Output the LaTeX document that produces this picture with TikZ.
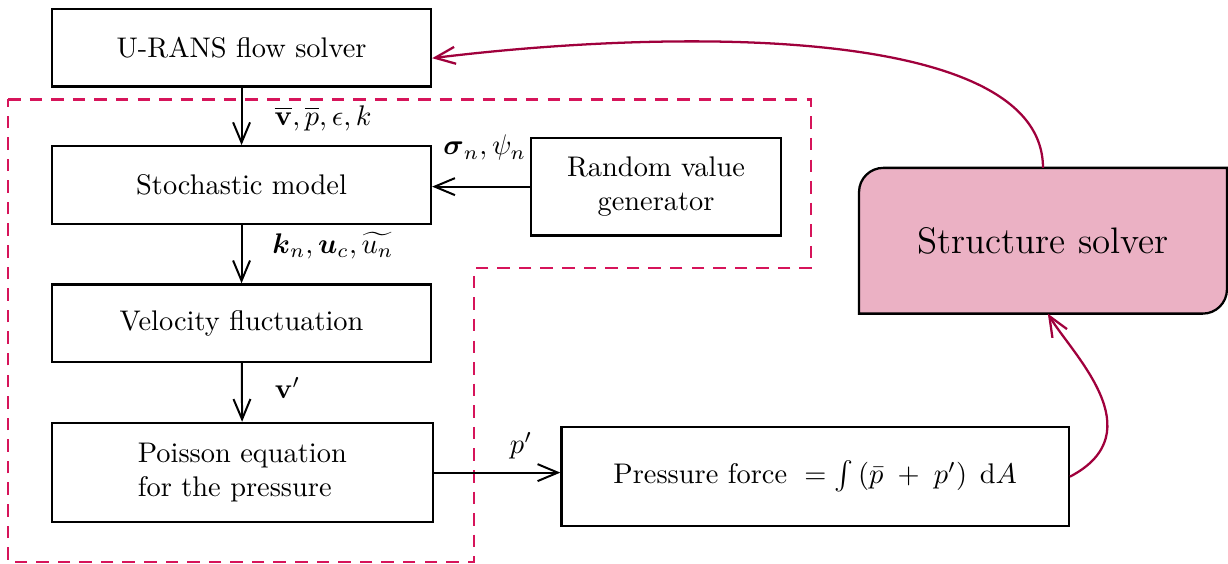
\documentclass[tikz,border=0pt]{standalone}
\usepackage{amsmath}
\usetikzlibrary{arrows.meta,backgrounds}
\definecolor{dashred}{RGB}{214,20,90}
\definecolor{curvered}{RGB}{160,0,60}
\definecolor{solverpink}{RGB}{235,177,196}

\begin{document}
\begin{tikzpicture}[
    block/.style={rectangle, draw, line width=0.8pt, minimum width=4.69cm, minimum height=0.96cm},
    flow/.style={-{Straight Barb[length=2.5mm,width=2.1mm]}, line width=0.7pt},
    feedback/.style={-{Straight Barb[length=2.5mm,width=2.1mm]}, curvered, line width=0.8pt},
    region/.style={dashred, dash pattern=on 4.4pt off 3.2pt, line width=0.8pt}
]
\useasboundingbox (0,0) rectangle (15.2,-6.98);

% Fluctuation model region
\draw[region] (0.10,-1.23) -- (10.04,-1.23) -- (10.04,-3.32) -- (5.87,-3.32)
    -- (5.87,-6.96) -- (0.10,-6.96) -- cycle;

% Flow side
\node[block] (urans) at (2.99,-0.59) {U-RANS flow solver};
\node[block] (stoch) at (2.99,-2.29) {Stochastic model};
\node[block] (velo) at (2.99,-4.00) {Velocity fluctuation};
\node[block, minimum height=1.23cm, minimum width=4.72cm, align=left] (poisson) at (3.00,-5.85) {Poisson equation\\for the pressure};
\node[block, minimum height=1.21cm, minimum width=3.09cm, align=center] (random) at (8.12,-2.31) {Random value\\generator};
\node[block, minimum height=1.23cm, minimum width=6.28cm] (pforce) at (10.09,-5.90)
    {Pressure force $\;=\int\,(\bar{p}\;+\;p')\;\,\mathrm{d}A$};

\draw[flow] (urans) -- (stoch);
\draw[flow] (stoch) -- (velo);
\draw[flow] (velo) -- (poisson);
\draw[flow] (random.west) -- (random.west -| stoch.east);
\draw[flow] (poisson.east) -- (poisson.east -| pforce.west);

\node (lab1) at (4.00,-1.46) {$\overline{\mathbf{v}},\overline{p},\epsilon,k$};
\node (lab2) at (6.00,-1.83) {$\boldsymbol{\sigma}_n,\psi_n$};
\node (lab3) at (4.12,-3.04) {$\boldsymbol{k}_n,\boldsymbol{u}_c,\widetilde{u_n}$};
\node (lab4) at (3.56,-4.80) {$\mathbf{v}'$};
\node (lab5) at (6.45,-5.52) {$p'$};

% Structure side
\node[font=\fontsize{13}{16}\selectfont, minimum width=4.54cm, minimum height=1.79cm] (ss) at (12.91,-2.98) {Structure solver};
\begin{scope}[on background layer]
    \draw[fill=solverpink, line width=0.8pt] (ss.south west) -- ([yshift=-0.3cm]ss.north west)
        arc[start angle=180, end angle=90, radius=0.3cm] -- (ss.north east)
        -- ([yshift=0.3cm]ss.south east) arc[start angle=0, end angle=-90, radius=0.3cm] -- cycle;
\end{scope}

\draw[feedback] (ss.north) .. controls +(0,1.75) and +(3.1,0.38) .. ([yshift=-0.13cm]urans.east);
\draw[feedback] (pforce.east) .. controls +(1.05,0.55) and +(0.3,-0.5) .. ([xshift=0.06cm]ss.south);

\end{tikzpicture}
\end{document}
